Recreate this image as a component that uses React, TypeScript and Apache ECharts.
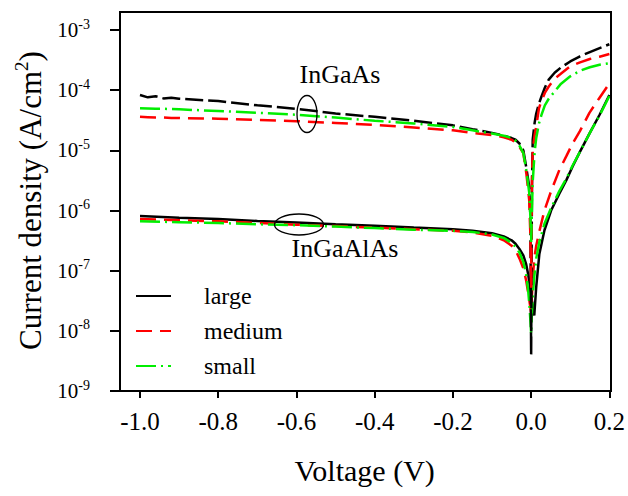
import React, { useEffect, useRef } from "react";
import * as echarts from "echarts";

// Bias voltage (V) sampled for the InGaAs devices
const vInGaAs = [
  -1.0, -0.98, -0.96, -0.94, -0.92, -0.9, -0.8, -0.7, -0.6, -0.5, -0.4, -0.3, -0.2, -0.15, -0.1, -0.07,
  -0.05, -0.04, -0.03, -0.02, -0.012, -0.005, -0.002, 0.0, 0.002, 0.004, 0.009, 0.013, 0.02, 0.026,
  0.035, 0.045, 0.06, 0.075, 0.1, 0.125, 0.15, 0.175, 0.2,
];
// Current density (A/cm^2), InGaAs devices
const jInGaAsLarge = [
  8.3e-5, 7.6e-5, 7.9e-5, 7.3e-5, 7.5e-5, 7.2e-5, 6.6e-5, 5.6e-5, 4.9e-5, 4.1e-5, 3.6e-5, 3.1e-5, 2.6e-5,
  2.25e-5, 1.95e-5, 1.75e-5, 1.6e-5, 1.5e-5, 1.3e-5, 1.0e-5, 5e-6, 2.5e-6, 8e-7, 4e-9, 2e-6, 1.5e-5,
  2.9e-5, 4.1e-5, 6e-5, 7.7e-5, 1.1e-4, 1.5e-4, 1.95e-4, 2.35e-4, 3.0e-4, 3.65e-4, 4.3e-4, 5.0e-4, 5.8e-4,
];
const jInGaAsMedium = [
  3.6e-5, 3.55e-5, 3.5e-5, 3.5e-5, 3.45e-5, 3.45e-5, 3.35e-5, 3.2e-5, 3.05e-5, 2.85e-5, 2.65e-5, 2.4e-5,
  2.15e-5, 1.95e-5, 1.8e-5, 1.65e-5, 1.5e-5, 1.35e-5, 1.15e-5, 9e-6, 4e-6, 1.5e-6, 4e-7, 5e-8, 3e-6, 1e-5,
  1.8e-5, 2.5e-5, 5e-5, 6.5e-5, 9e-5, 1.15e-4, 1.55e-4, 1.85e-4, 2.5e-4, 2.9e-4, 3.3e-4, 3.6e-4, 4.0e-4,
];
const jInGaAsSmall = [
  5.0e-5, 4.95e-5, 4.9e-5, 4.9e-5, 4.85e-5, 4.8e-5, 4.5e-5, 4.2e-5, 3.9e-5, 3.5e-5, 3.1e-5, 2.8e-5, 2.45e-5,
  2.15e-5, 1.9e-5, 1.75e-5, 1.6e-5, 1.45e-5, 1.2e-5, 9e-6, 4.5e-6, 2e-6, 8e-7, 3e-7, 1e-6, 3e-6, 9.5e-6,
  1.6e-5, 2.8e-5, 3.8e-5, 5.6e-5, 7.2e-5, 9.5e-5, 1.25e-4, 1.7e-4, 2.1e-4, 2.4e-4, 2.65e-4, 2.8e-4,
];

// Bias voltage (V) sampled for the InGaAlAs devices
const vInGaAlAs = [
  -1.0, -0.9, -0.8, -0.7, -0.6, -0.5, -0.4, -0.3, -0.2, -0.15, -0.1, -0.07, -0.05, -0.04, -0.03, -0.02,
  -0.013, -0.008, -0.004, 0.0, 0.002, 0.005, 0.008, 0.013, 0.021, 0.034, 0.051, 0.072, 0.09, 0.106, 0.125,
  0.149, 0.175, 0.2,
];
// Current density (A/cm^2), InGaAlAs devices
const jInGaAlAsLarge = [
  8.1e-7, 7.6e-7, 7.2e-7, 6.7e-7, 6.3e-7, 5.9e-7, 5.6e-7, 5.2e-7, 4.9e-7, 4.6e-7, 4.2e-7, 3.7e-7, 3.2e-7,
  2.8e-7, 2.3e-7, 1.8e-7, 1.3e-7, 9e-8, 6e-8, 4e-8, 3.2e-8, 2.4e-8, 1.8e-8, 5.4e-8, 1.9e-7, 4.7e-7, 1.0e-6,
  1.9e-6, 3.2e-6, 5.4e-6, 9.5e-6, 1.9e-5, 3.9e-5, 8.3e-5,
];
const jInGaAlAsMedium = [
  7.2e-7, 6.9e-7, 6.6e-7, 6.2e-7, 5.8e-7, 5.5e-7, 5.2e-7, 4.9e-7, 4.6e-7, 4.3e-7, 3.8e-7, 3.2e-7, 2.6e-7,
  2.2e-7, 1.6e-7, 1.1e-7, 7e-8, 4.5e-8, 3e-8, 2e-8, 4e-8, 8.9e-8, 1.6e-7, 2.6e-7, 4.5e-7, 1.0e-6, 2.1e-6,
  4.7e-6, 8e-6, 1.3e-5, 2.1e-5, 4.2e-5, 7.5e-5, 1.3e-4,
];
const jInGaAlAsSmall = [
  6.6e-7, 6.4e-7, 6.2e-7, 5.9e-7, 5.7e-7, 5.4e-7, 5.1e-7, 4.8e-7, 4.6e-7, 4.4e-7, 4.0e-7, 3.5e-7, 2.9e-7,
  2.5e-7, 2.0e-7, 1.4e-7, 9e-8, 5e-8, 2.5e-8, 9e-9, 2e-8, 4.5e-8, 8e-8, 1.6e-7, 3e-7, 6e-7, 1.1e-6, 2.1e-6,
  3.4e-6, 5.6e-6, 9.5e-6, 1.9e-5, 3.8e-5, 8.0e-5,
];

const sizeNames = ["large", "medium", "small"];
const xTicks = [-1.0, 0.2];
const yRange = [1e-9, 1e-3];

const SERIF = "Liberation Serif, serif";

const zip = (xs: number[], ys: number[]) => xs.map((x, i) => [x, ys[i]]);

const styles: Record<string, { color: string; type: any }> = {
  large: { color: "#000000", type: "solid" },
  medium: { color: "#ff0000", type: [16, 8] },
  small: { color: "#00ee00", type: [20, 5, 2, 5] },
};

function lineSeries(name: string, data: number[][], typeOverride?: any) {
  const st = styles[name];
  return {
    type: "line",
    name,
    data,
    symbol: "none",
    showSymbol: false,
    clip: false,
    lineStyle: { color: st.color, width: 2.5, type: typeOverride ?? st.type },
    itemStyle: { color: st.color },
    emphasis: { disabled: true },
  };
}

const txt = (size: number) => ({ fontSize: size, fontFamily: SERIF, color: "#000" });

export default function App() {
  const ref = useRef<HTMLDivElement>(null);

  useEffect(() => {
    if (!ref.current) return;
    const chart = echarts.init(ref.current, undefined, { renderer: "svg" });

    const option = {
      animation: false,
      backgroundColor: "#ffffff",
      textStyle: { fontFamily: SERIF, color: "#000" },
      grid: { left: 140, right: 17, top: 30, bottom: 105 },
      xAxis: {
        type: "value",
        min: xTicks[0],
        max: xTicks[1],
        interval: 0.2,
        axisLine: { show: false, onZero: false },
        axisTick: { show: true, length: 7, lineStyle: { color: "#000", width: 2 } },
        splitLine: { show: false },
        axisLabel: {
          ...txt(25),
          margin: 18,
          formatter: (v: number) => (Math.abs(v) < 1e-9 ? "0.0" : v.toFixed(1)),
        },
        name: "Voltage (V)",
        nameLocation: "middle",
        nameGap: 64,
        nameTextStyle: { ...txt(30), padding: [0, 20, 0, 0] },
      },
      yAxis: {
        type: "log",
        logBase: 10,
        min: yRange[0],
        max: yRange[1],
        splitNumber: 6,
        offset: 20,
        axisLine: { show: false, onZero: false },
        axisTick: { show: true, length: 10, lineStyle: { color: "#000", width: 2 } },
        splitLine: { show: false },
        minorTick: { show: false },
        axisLabel: {
          ...txt(21),
          margin: 30,
          formatter: (v: number) => `{b|10}{s|${Math.round(Math.log10(v))}}`,
          rich: {
            b: txt(21),
            s: { ...txt(14), padding: [0, 0, 12, 0] },
          },
        },
        name: "Current density (A/cm{sup|2})",
        nameLocation: "middle",
        nameGap: 72,
        nameTextStyle: {
          ...txt(31),
          padding: [0, 0, 0, 20],
          rich: { sup: { ...txt(19), padding: [0, 0, 17, 0] } },
        },
      },
      legend: {
        data: sizeNames,
        orient: "vertical",
        left: 130,
        top: 279,
        itemWidth: 35,
        itemHeight: 14,
        itemGap: 11,
        selectedMode: false,
        itemStyle: { opacity: 0 },
        textStyle: { ...txt(24), padding: [0, 0, 0, 28] },
      },
      graphic: [
        {
          type: "rect",
          silent: true,
          shape: { x: 120, y: 12, width: 491, height: 379 },
          style: { fill: "none", stroke: "#000", lineWidth: 2 },
          z: 100,
        },
        {
          type: "ellipse",
          silent: true,
          shape: { cx: 307, cy: 114, rx: 10, ry: 18.5 },
          style: { fill: "none", stroke: "#000", lineWidth: 1.3 },
          z: 100,
        },
        {
          type: "ellipse",
          silent: true,
          shape: { cx: 299, cy: 224.5, rx: 24.5, ry: 10.5 },
          style: { fill: "none", stroke: "#000", lineWidth: 1.3 },
          z: 100,
        },
        {
          type: "text",
          silent: true,
          x: 340,
          y: 74,
          style: {
            text: "InGaAs",
            fontSize: 26,
            fontFamily: SERIF,
            fill: "#000",
            align: "center",
            verticalAlign: "middle",
          },
          z: 100,
        },
        {
          type: "text",
          silent: true,
          x: 345,
          y: 248,
          style: {
            text: "InGaAlAs",
            fontSize: 26,
            fontFamily: SERIF,
            fill: "#000",
            align: "center",
            verticalAlign: "middle",
          },
          z: 100,
        },
      ],
      series: [
        lineSeries("large", zip(vInGaAlAs, jInGaAlAsLarge)),
        lineSeries("medium", zip(vInGaAlAs, jInGaAlAsMedium)),
        lineSeries("small", zip(vInGaAlAs, jInGaAlAsSmall)),
        lineSeries("large", zip(vInGaAs, jInGaAsLarge), [18, 5]),
        lineSeries("medium", zip(vInGaAs, jInGaAsMedium)),
        lineSeries("small", zip(vInGaAs, jInGaAsSmall)),
      ],
    };

    chart.setOption(option as any);
    return () => chart.dispose();
  }, []);

  return (
    <>
      {/* every label of this figure is set in a Times-style serif face */}
      <style>{`.iv-chart svg text, .iv-chart svg tspan { font-family: "Liberation Serif", serif !important; }`}</style>
      <div
        ref={ref}
        className="iv-chart"
        style={{ position: "fixed", left: 0, top: 0, width: 628, height: 496, background: "#fff" }}
      />
    </>
  );
}
